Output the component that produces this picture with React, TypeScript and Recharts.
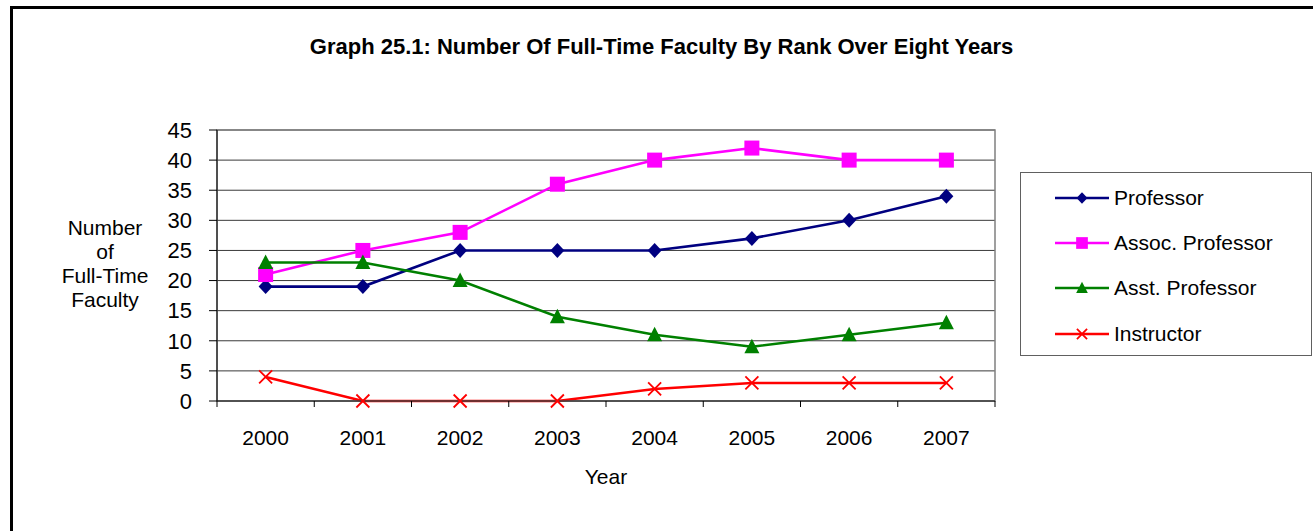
import React from 'react';
import {
  LineChart,
  Line,
  XAxis,
  YAxis,
  CartesianGrid,
  ReferenceArea,
} from 'recharts';

const years = ['2000', '2001', '2002', '2003', '2004', '2005', '2006', '2007'];
const professor = [19, 19, 25, 25, 25, 27, 30, 34];
const assocProfessor = [21, 25, 28, 36, 40, 42, 40, 40];
const asstProfessor = [23, 23, 20, 14, 11, 9, 11, 13];
const instructor = [4, 0, 0, 0, 2, 3, 3, 3];
const yTicks = [0, 5, 10, 15, 20, 25, 30, 35, 40, 45];

const FONT = '"Liberation Sans", Arial, sans-serif';

type MarkerType = 'diamond' | 'square' | 'triangle' | 'cross';

const series: { key: string; name: string; color: string; marker: MarkerType; values: number[] }[] = [
  { key: 'professor', name: 'Professor', color: '#000080', marker: 'diamond', values: professor },
  { key: 'assoc', name: 'Assoc. Professor', color: '#FF00FF', marker: 'square', values: assocProfessor },
  { key: 'asst', name: 'Asst. Professor', color: '#008000', marker: 'triangle', values: asstProfessor },
  { key: 'instructor', name: 'Instructor', color: '#FF0000', marker: 'cross', values: instructor },
];

const data = years.map((year, i) => {
  const row: Record<string, number | string> = { x: i, year };
  series.forEach((s) => {
    row[s.key] = s.values[i];
  });
  return row;
});

// category centres get labels, the half steps get Excel-style tick marks
const xTicks = years.flatMap((_, i) => [i - 0.5, i]).concat(years.length - 0.5);

const Marker = ({ type, cx, cy, color, s = 1 }: { type: MarkerType; cx: number; cy: number; color: string; s?: number }) => {
  if (cx == null || cy == null) return null;
  switch (type) {
    case 'diamond':
      return (
        <polygon
          points={`${cx},${cy - 7.5 * s} ${cx + 7 * s},${cy} ${cx},${cy + 7.5 * s} ${cx - 7 * s},${cy}`}
          fill={color}
        />
      );
    case 'square':
      return <rect x={cx - 7.5 * s} y={cy - 7.5 * s} width={15 * s} height={15 * s} fill={color} />;
    case 'triangle':
      return (
        <polygon
          points={`${cx},${cy - 8 * s} ${cx + 7.5 * s},${cy + 6.5 * s} ${cx - 7.5 * s},${cy + 6.5 * s}`}
          fill={color}
        />
      );
    default:
      return (
        <path
          d={`M${cx - 6.5 * s},${cy - 6.5 * s}L${cx + 6.5 * s},${cy + 6.5 * s}M${cx + 6.5 * s},${cy - 6.5 * s}L${cx - 6.5 * s},${cy + 6.5 * s}`}
          stroke={color}
          strokeWidth={1.8}
          fill="none"
        />
      );
  }
};

const XTick = (props: any) => {
  const { x, y, payload } = props;
  const v = payload.value;
  if (Number.isInteger(v)) {
    return (
      <text x={x} y={y} dy="0.71em" textAnchor="middle" fontSize={21} fontFamily={FONT} fill="#000">
        {years[v]}
      </text>
    );
  }
  return <line x1={x} x2={x} y1={y - 29} y2={y - 23} stroke="#000" strokeWidth={1} />;
};

export default function App() {
  return (
    <div
      style={{
        position: 'absolute',
        left: 0,
        top: 0,
        width: 1313,
        height: 531,
        overflow: 'hidden',
        background: '#fff',
        fontFamily: FONT,
      }}
    >
      {/* outer chart border */}
      <div
        style={{
          position: 'absolute',
          left: 10,
          top: 6,
          width: 1400,
          height: 600,
          border: '3px solid #000',
        }}
      />

      <div
        style={{
          position: 'absolute',
          left: 10,
          top: 35,
          width: 1303,
          textAlign: 'center',
          fontWeight: 'bold',
          fontSize: 22,
          lineHeight: '24px',
        }}
      >
        Graph 25.1: Number Of Full-Time Faculty By Rank Over Eight Years
      </div>

      <div style={{ position: 'absolute', left: 0, top: 0 }}>
        <LineChart width={1313} height={531} data={data} margin={{ top: 130, right: 318, bottom: 0, left: 0 }}>
          <CartesianGrid vertical={false} stroke="#3a3a3a" strokeWidth={1} />
          <ReferenceArea x1={-0.5} x2={7.5} y1={0} y2={45} fill="none" stroke="#808080" strokeWidth={1.5} />
          <XAxis
            dataKey="x"
            type="number"
            domain={[-0.5, 7.5]}
            ticks={xTicks}
            interval={0}
            tick={<XTick />}
            tickLine={false}
            tickSize={6}
            tickMargin={23}
            height={130}
            axisLine={{ stroke: '#404040', strokeWidth: 1.5 }}
          />
          <YAxis
            domain={[0, 45]}
            ticks={yTicks}
            interval={0}
            width={217}
            tickSize={8}
            tickMargin={17}
            tick={{ fontSize: 22, fill: '#000', fontFamily: FONT }}
            tickLine={{ stroke: '#000' }}
            axisLine={{ stroke: '#000' }}
          />
          {series.map((s) => (
            <Line
              key={s.key}
              dataKey={s.key}
              name={s.name}
              type="linear"
              stroke={s.color}
              strokeWidth={2.6}
              isAnimationActive={false}
              dot={(p: any) => <Marker key={`${s.key}-${p.index}`} type={s.marker} cx={p.cx} cy={p.cy} color={s.color} />}
              activeDot={false}
            />
          ))}
        </LineChart>
      </div>

      {/* y-axis title */}
      <div
        style={{
          position: 'absolute',
          left: 45,
          top: 216,
          width: 120,
          textAlign: 'center',
          fontSize: 21,
          lineHeight: '24px',
        }}
      >
        Number
        <br />
        of
        <br />
        Full-Time
        <br />
        Faculty
      </div>

      {/* x-axis title */}
      <div
        style={{
          position: 'absolute',
          left: 506,
          top: 465,
          width: 200,
          textAlign: 'center',
          fontSize: 21,
          lineHeight: '24px',
        }}
      >
        Year
      </div>

      {/* Legend */}
      <div
        style={{
          position: 'absolute',
          left: 1020,
          top: 172,
          width: 292,
          height: 184,
          border: '1px solid #606060',
          boxSizing: 'border-box',
        }}
      >
        {series.map((s, i) => (
          <div
            key={s.key}
            style={{
              position: 'absolute',
              left: 34,
              top: 24.5 + i * 45.4 - 12,
              height: 24,
              display: 'flex',
              alignItems: 'center',
              whiteSpace: 'nowrap',
            }}
          >
            <svg width={54} height={24} style={{ display: 'block' }}>
              <line x1={0} x2={54} y1={12} y2={12} stroke={s.color} strokeWidth={2.5} />
              <Marker type={s.marker} cx={27} cy={12} color={s.color} s={0.78} />
            </svg>
            <span style={{ marginLeft: 5, fontSize: 21, lineHeight: '24px' }}>{s.name}</span>
          </div>
        ))}
      </div>
    </div>
  );
}
